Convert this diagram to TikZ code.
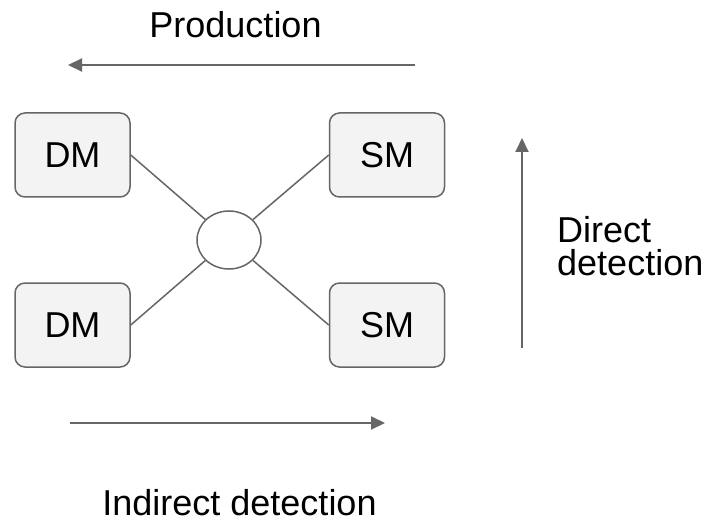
\documentclass[tikz,border=0pt]{standalone}
\usepackage{fontspec}
\setmainfont{Liberation Sans}
\usetikzlibrary{arrows.meta,shapes.geometric}
\definecolor{linegrey}{HTML}{666666}
\definecolor{boxfill}{HTML}{F3F3F3}
\begin{document}
\begin{tikzpicture}[x=1pt,y=-1pt,
  every node/.style={font=\fontsize{36}{33}\selectfont},
  particle/.style={draw=linegrey,line width=1.5pt,fill=boxfill,rounded corners=10pt,minimum width=115pt,minimum height=84pt,inner sep=0pt},
  vertex/.style={draw=linegrey,line width=1.5pt,fill=white,ellipse,minimum width=64pt,minimum height=58pt,inner sep=0pt},
  leg/.style={draw=linegrey,line width=1.5pt},
  flow/.style={draw=linegrey,line width=2pt,-{Triangle[length=14pt,width=13pt]}},
  label/.style={inner sep=0pt,text=black,text depth=0pt}]
\useasboundingbox (0,0) rectangle (711,521);
\node[particle] (dm1) at (72.5,155) {DM};
\node[particle] (dm2) at (72.5,325) {DM};
\node[particle] (sm1) at (387,155) {SM};
\node[particle] (sm2) at (387,325) {SM};
\node[vertex] (c) at (229,240) {};
\draw[leg] (dm1.east) -- (c);
\draw[leg] (dm2.east) -- (c);
\draw[leg] (c) -- (sm1.west);
\draw[leg] (c) -- (sm2.west);
\coordinate (pa) at (415,65);
\coordinate (pb) at (68,65);
\coordinate (da) at (522,348);
\coordinate (db) at (522,138);
\coordinate (ia) at (70,423);
\coordinate (ib) at (385,423);
\draw[flow] (pa) -- (pb);
\draw[flow] (da) -- (db);
\draw[flow] (ia) -- (ib);
\node[label,anchor=base] (prod) at (235.5,38) {Production};
\node[inner sep=0pt,text=black,anchor=base west,align=left] (dir) at (557,275) {Direct\\detection};
\node[label,anchor=base] (ind) at (239.5,515) {Indirect detection};
\end{tikzpicture}
\end{document}
